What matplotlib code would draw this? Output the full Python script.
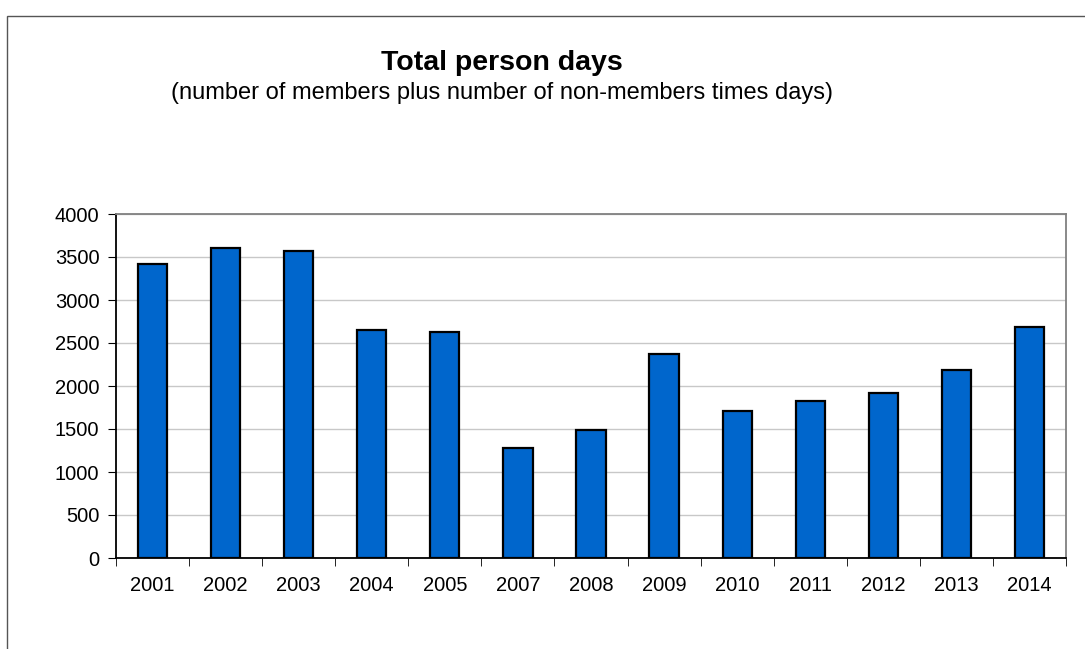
import matplotlib.pyplot as plt
from matplotlib.patches import Rectangle

# Дані
years = ['2001', '2002', '2003', '2004', '2005', '2007', '2008',
         '2009', '2010', '2011', '2012', '2013', '2014']
person_days = [3420, 3600, 3565, 2650, 2625, 1275, 1485,
               2370, 1708, 1822, 1922, 2188, 2690]

plt.rcParams['font.family'] = ['Liberation Sans', 'DejaVu Sans']

fig = plt.figure(figsize=(10.85, 6.49), dpi=100)
W, H = 1085, 649

# рамка навколо діаграми (обрізана справа і знизу)
fig.patches.append(Rectangle((7 / W, -0.1), 1.2, 1 - 16 / H + 0.1,
                             transform=fig.transFigure, fill=False,
                             edgecolor='#555555', linewidth=1.0))

ax = fig.add_axes([116 / W, 1 - 558 / H, (1066 - 116) / W, (558 - 214) / H])

x = range(len(years))
ax.bar(x, person_days, width=0.4, color='#0066CC', edgecolor='black',
       linewidth=1.6, zorder=3)

ax.set_xlim(-0.5, len(years) - 0.5)
ax.set_ylim(0, 4000)
ax.set_yticks(range(0, 4001, 500))
ax.set_xticks(x)
ax.set_xticklabels(years)
ax.set_xticks([i - 0.5 for i in range(len(years) + 1)], minor=True)
ax.tick_params(axis='x', which='major', length=0, pad=13, labelsize=14.5)
ax.tick_params(axis='x', which='minor', length=6, direction='out')
ax.tick_params(axis='y', length=6, direction='out', labelsize=14.5, pad=6)

ax.grid(axis='y', color='#c8c8c8', linewidth=1.0, zorder=0)
ax.spines['left'].set_color('black')
ax.spines['bottom'].set_color('black')
ax.spines['top'].set_color('#808080')
ax.spines['right'].set_color('#808080')
for s in ax.spines.values():
    s.set_linewidth(1.3)

fig.text(502 / W, 1 - 63 / H, 'Total person days', ha='center', va='center',
         fontsize=20.5, fontweight='bold')
fig.text(502 / W, 1 - 93 / H,
         '(number of members plus number of non-members times days)',
         ha='center', va='center', fontsize=17)

fig.savefig('out.png', dpi=100)
